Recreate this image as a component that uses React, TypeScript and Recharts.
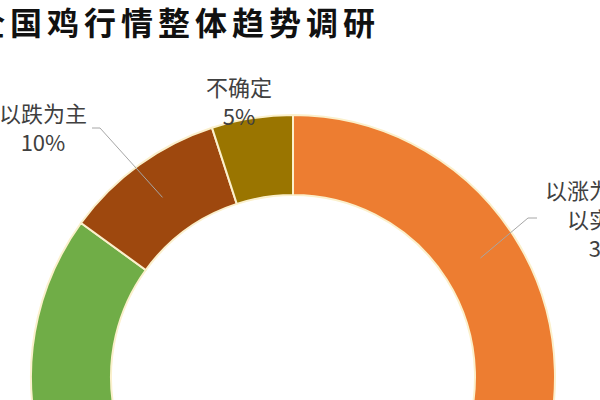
import React from "react";
import { PieChart, Pie, Cell } from "recharts";

const categories = ["以涨为主，以实际为准", "以稳为主", "以跌为主", "不确定"];
const values = [32, 53, 10, 5];
const colors = ["#ED7D31", "#70AD47", "#9E480E", "#9A7500"];
const labelLines: string[][] = [
  ["以涨为主，但", "以实为准"],
  ["以稳为主"],
  ["以跌为主"],
  ["不确定"],
];
const title = "全国鸡行情整体趋势调研";

const data = categories.map((name, i) => ({ name, value: values[i] }));

const CX = 293;
const CY = 377;
const R_IN = 182;
const R_OUT = 262;
const FONT = "'Noto Sans CJK SC', 'Noto Sans', sans-serif";

// label layout: text centre offset from pie centre, plus optional leader elbow
const labelLayout = [
  { dx: 318, dy: -188, elbow: [235, -159], end: [244, -159] },
  { dx: -330, dy: 150, elbow: null, end: null },
  { dx: -250, dy: -265, elbow: [-193, -249], end: [-201, -249] },
  { dx: -54, dy: -291, elbow: null, end: null },
];

const RAD = Math.PI / 180;

const renderLabel = (props: any) => {
  const { cx, cy, midAngle, innerRadius, outerRadius, index, value } = props;
  const lay = labelLayout[index];
  const lines = [...labelLines[index], `${value}%`];
  const tx = cx + lay.dx;
  const ty = cy + lay.dy;
  const mr = (innerRadius + outerRadius) / 2;
  const sx = cx + mr * Math.cos(-midAngle * RAD);
  const sy = cy + mr * Math.sin(-midAngle * RAD);
  return (
    <g key={`lbl-${index}`}>
      {lay.elbow && lay.end && (
        <polyline
          points={`${sx},${sy} ${cx + lay.elbow[0]},${cy + lay.elbow[1]} ${cx + lay.end[0]},${cy + lay.end[1]}`}
          fill="none"
          stroke="#a6a6a6"
          strokeWidth={1}
        />
      )}
      <text
        x={tx}
        y={ty}
        textAnchor="middle"
        fill="#404040"
        fontSize={22}
        fontFamily={FONT}
      >
        {lines.map((l, i) => (
          <tspan key={i} x={tx} y={ty + i * 29} dominantBaseline="central">
            {l}
          </tspan>
        ))}
      </text>
    </g>
  );
};

export default function App() {
  return (
    <div
      style={{
        position: "absolute",
        left: 0,
        top: 0,
        width: 600,
        height: 400,
        overflow: "hidden",
        background: "#ffffff",
      }}
    >
      <PieChart width={600} height={400} margin={{ top: 0, right: 0, bottom: 0, left: 0 }}>
        <Pie
          data={data}
          dataKey="value"
          nameKey="name"
          cx={CX}
          cy={CY}
          innerRadius={R_IN}
          outerRadius={R_OUT}
          startAngle={90}
          endAngle={-270}
          stroke="#fbf0cc"
          strokeWidth={2}
          label={renderLabel}
          labelLine={false}
          isAnimationActive={false}
        >
          {data.map((d, i) => (
            <Cell key={d.name} fill={colors[i]} />
          ))}
        </Pie>
      </PieChart>
      <svg
        width={600}
        height={50}
        style={{ position: "absolute", left: 0, top: 0 }}
      >
        <text
          x={-27}
          y={21}
          dominantBaseline="central"
          fontSize={32}
          fontWeight="bold"
          letterSpacing={5}
          fill="#111111"
          fontFamily={FONT}
        >
          {title}
        </text>
      </svg>
    </div>
  );
}
